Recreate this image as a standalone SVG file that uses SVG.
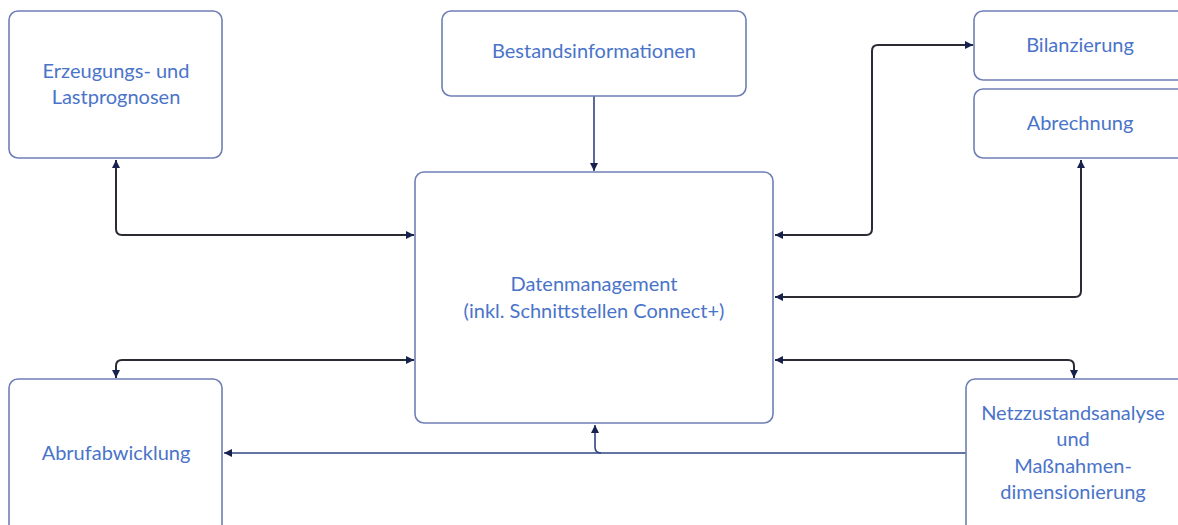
<svg xmlns="http://www.w3.org/2000/svg" width="1178" height="525" viewBox="0 0 1178 525">
<style>
.box{fill:#fff;stroke:#6f7fb5;stroke-width:1.6}
.t{font-family:Lato,"Open Sans","Liberation Sans",sans-serif;font-size:20px;fill:#4a74c9;text-anchor:middle}
.c{fill:none;stroke:#2b2b33;stroke-width:2}
.n{fill:none;stroke:#2e4683;stroke-width:1.6}
</style>
<defs>
<marker id="a" viewBox="0 0 10 10" refX="10" refY="5" markerWidth="9" markerHeight="8" markerUnits="userSpaceOnUse" orient="auto-start-reverse"><path d="M0,0 L10,5 L0,10 Z" fill="#16224d"/></marker>
</defs>
<rect width="1178" height="525" fill="#fff"/>
<g id="connectors">
<path class="c" d="M116,160 V229 Q116,235 122,235 H414" marker-start="url(#a)" marker-end="url(#a)"/>
<path class="n" d="M594,96 V171" marker-end="url(#a)"/>
<path class="c" d="M775,235 H866 Q872,235 872,229 V51 Q872,45 878,45 H973" marker-start="url(#a)" marker-end="url(#a)"/>
<path class="c" d="M775,297 H1075 Q1081,297 1081,291 V160" marker-start="url(#a)" marker-end="url(#a)"/>
<path class="c" d="M116,378 V366 Q116,360 122,360 H414" marker-start="url(#a)" marker-end="url(#a)"/>
<path class="c" d="M775,360 H1068 Q1074,360 1074,366 V378" marker-start="url(#a)" marker-end="url(#a)"/>
<path class="n" d="M966,453 H224" marker-end="url(#a)"/>
<path class="n" d="M601,453 Q595,453 595,447 V425" marker-end="url(#a)"/>
</g>
<g id="erzeugung"><rect class="box" x="9" y="11" width="213" height="147" rx="9"/><text class="t" x="116" y="78">Erzeugungs- und</text><text class="t" x="116" y="104">Lastprognosen</text></g>
<g id="bestand"><rect class="box" x="442" y="11" width="304" height="85" rx="9"/><text class="t" x="594" y="58">Bestandsinformationen</text></g>
<g id="bilanzierung"><rect class="box" x="974" y="11" width="214" height="69" rx="9"/><text class="t" x="1080" y="52">Bilanzierung</text></g>
<g id="abrechnung"><rect class="box" x="974" y="89" width="214" height="69" rx="9"/><text class="t" x="1080" y="130">Abrechnung</text></g>
<g id="datenmanagement"><rect class="box" x="415" y="172" width="358" height="251" rx="9"/><text class="t" x="594" y="291">Datenmanagement</text><text class="t" x="594" y="318">(inkl. Schnittstellen Connect+)</text></g>
<g id="abruf"><rect class="box" x="9" y="379" width="213" height="155" rx="9"/><text class="t" x="116" y="460">Abrufabwicklung</text></g>
<g id="netz"><rect class="box" x="966" y="379" width="222" height="155" rx="9"/><text class="t" x="1073" y="420">Netzzustandsanalyse</text><text class="t" x="1073" y="446">und</text><text class="t" x="1073" y="473">Maßnahmen-</text><text class="t" x="1073" y="499">dimensionierung</text></g>
</svg>
